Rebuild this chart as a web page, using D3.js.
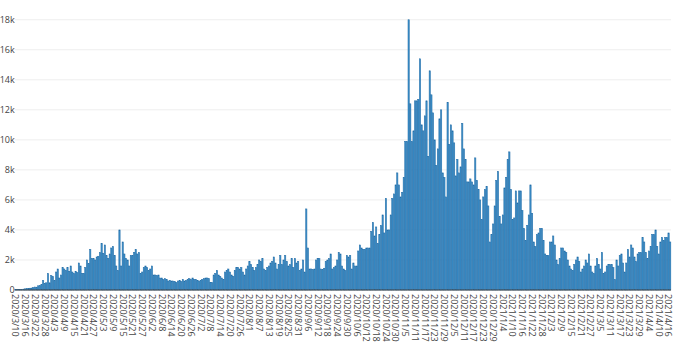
<!DOCTYPE html>
<html><head><meta charset="utf-8">
<script src="https://cdn.jsdelivr.net/npm/d3@7"></script>
<style>
html,body{margin:0;padding:0;background:#fff;}
svg{display:block;font-family:"Open Sans",sans-serif;}
</style></head>
<body><svg id="chart" width="680" height="349"></svg>
<script>
const startDate = "2020-03-10";
const values = [
20,30,40,30,50,60,80,100,90,120,
130,160,200,190,280,300,350,620,450,480,
1100,480,950,900,620,1200,1400,800,1000,1500,
1400,1300,1500,1250,1600,1200,1100,1250,1150,1800,
1600,1100,1100,1500,2000,1750,2700,2100,2100,2000,
2200,2250,2500,3100,2450,3000,2300,2100,2400,2800,
2900,2300,1600,1300,4000,1600,3200,2400,2100,2000,
1600,2300,2300,2500,2700,2400,2500,1100,1200,1500,
1600,1500,1300,1400,1600,1000,1000,950,1000,800,
800,700,750,700,600,650,600,600,550,500,
600,650,550,700,600,650,700,750,700,800,
700,700,650,600,650,700,750,800,800,750,
500,500,1000,1100,1300,1000,900,800,700,1200,
1300,1400,1200,1000,900,1300,1500,1500,1400,1500,
1200,1000,1400,1600,1900,1700,1500,1300,1500,1700,
2000,1900,2100,1400,1300,1500,1600,1800,1900,2200,
1800,1400,1700,2300,1700,2000,2300,1900,1600,1700,
2100,1500,2100,1800,1900,1300,1400,2000,1200,5400,
2800,1400,1400,1350,1400,2000,2100,2100,1400,1350,
1450,1900,2000,2100,2400,1400,1500,1600,2000,2500,
2400,1600,1400,1300,2300,2200,2300,1400,1800,1600,
1600,2600,3000,2800,2700,2700,2800,2800,2800,3900,
4500,3600,4200,3100,3700,4300,5000,3800,6100,4000,
4000,5000,6100,6400,7000,7800,7000,6200,6500,7500,
9900,9900,18000,12400,9900,10600,12600,12600,12700,15400,
11000,10600,11600,12600,8900,14600,13000,11800,10000,8300,
9400,11400,12000,7800,7500,6200,12500,9700,11000,10600,
9800,7600,8700,7800,8200,11100,9400,8700,7200,7200,
7400,7200,7000,8800,7300,6700,6000,4700,6200,6700,
6900,5600,3200,3700,4400,5600,7300,7900,4900,4400,
5000,6800,7500,8700,9200,6700,4700,4800,6600,5800,
6600,6600,5300,4100,3300,4300,5000,7000,5100,3200,
2900,3700,3800,4100,4100,3300,2400,2300,2300,3200,
3200,3600,3000,2000,1700,2100,2800,2800,2600,2500,
2000,1600,1400,1300,1700,2000,2200,1900,1200,1400,
1600,2000,1800,2400,1600,1200,1100,1600,2100,1700,
1400,2500,1100,1200,1600,1700,1700,1700,1500,700,
2000,1600,2300,2400,1800,1200,1800,2700,2200,3000,
2800,2200,1900,2400,2500,2500,3500,3200,2500,2100,
2600,2900,3700,3700,4000,2900,2400,3200,3500,3300,
3500,3500,3800,3200
];
const yTicks = [0,2000,4000,6000,8000,10000,12000,14000,16000,18000];
const yTickLabels = ["0","2k","4k","6k","8k","10k","12k","14k","16k","18k"];

const parse = d3.timeParse("%Y-%m-%d");
const fmt = d3.timeFormat("%Y/%-m/%-d");
const d0 = parse(startDate);
const categories = values.map((v,i)=>fmt(d3.timeDay.offset(d0,i)));
const tickLabels = categories.filter((c,i)=>i%6===0);

const svg = d3.select("#chart");
const m = {left:14.7, right:9, top:19, bottom:59};
const W = 680, H = 349;
const x = d3.scaleBand().domain(categories).range([m.left, W-m.right]).paddingInner(0.2).paddingOuter(0.1);
const y = d3.scaleLinear().domain([0,18050]).range([H-m.bottom, m.top]);

// gridlines
svg.append("g").selectAll("line").data(yTicks.slice(1)).join("line")
  .attr("x1",m.left).attr("x2",W-m.right)
  .attr("y1",d=>y(d)).attr("y2",d=>y(d))
  .attr("stroke","#eeeeee").attr("stroke-width",1);

// bars
svg.append("g").selectAll("rect").data(values).join("rect")
  .attr("x",(d,i)=>x(categories[i]))
  .attr("width",x.bandwidth())
  .attr("y",d=>y(d))
  .attr("height",d=>y(0)-y(d))
  .attr("fill","#3b8ec8")
  .attr("stroke","#1f6aa5")
  .attr("stroke-width",0.5);

// zero line
svg.append("line").attr("x1",m.left).attr("x2",W-m.right)
  .attr("y1",y(0)).attr("y2",y(0)).attr("stroke","#444").attr("stroke-width",1);

// y axis
const yAxis = d3.axisLeft(y).tickValues(yTicks).tickFormat((d,i)=>yTickLabels[i]).tickSize(0).tickPadding(0);
const gy = svg.append("g").attr("transform",`translate(${m.left},0)`).call(yAxis);
gy.select(".domain").remove();
gy.selectAll("text").attr("fill","#444").style("font-size","9px").style("font-family","'Open Sans',sans-serif");

// x axis
const xAxis = d3.axisBottom(x).tickValues(tickLabels).tickSize(0).tickPadding(0);
const gx = svg.append("g").attr("transform",`translate(0,${y(0)})`).call(xAxis);
gx.select(".domain").remove();
gx.selectAll("text")
  .attr("fill","#444").style("font-size","9px").style("font-family","'Open Sans',sans-serif")
  .attr("transform","rotate(90)")
  .attr("x",4).attr("y",0).attr("dy","0.35em")
  .style("text-anchor","start");
</script>
</body></html>
